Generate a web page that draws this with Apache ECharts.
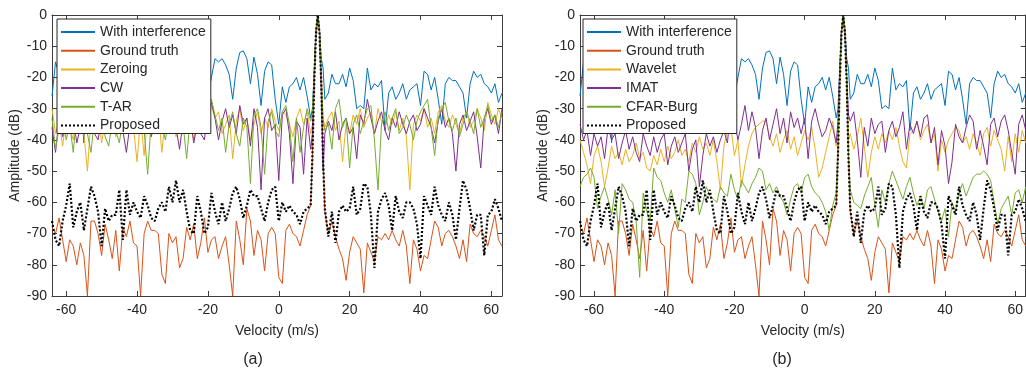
<!DOCTYPE html>
<html>
<head>
<meta charset="utf-8">
<script src="https://cdn.jsdelivr.net/npm/echarts@6/dist/echarts.min.js"></script>
<style>
html,body{margin:0;padding:0;background:#fff;}
#chart{width:1026px;height:370px;}
</style>
</head>
<body>
<div id="chart"></div>
<script>
// Velocity samples (m/s)
var velocity = [
-64,-63,-62,-61,-60,-59,-58,-57,-56,-55,
-54,-53,-52,-51,-50,-49,-48,-47,-46,-45,
-44,-43,-42,-41,-40,-39,-38,-37,-36,-35,
-34,-33,-32,-31,-30,-29,-28,-27,-26,-25,
-24,-23,-22,-21,-20,-19,-18,-17,-16,-15,
-14,-13,-12,-11,-10,-9,-8,-7,-6,-5,
-4,-3,-2,-1,0,1,2,3,4,5,
6,7,8,9,
9.5,10,10.5,11,11.5,12,12.5,
13,14,15,16,17,18,19,20,21,22,
23,24,25,26,27,28,29,30,31,32,
33,34,35,36,37,38,39,40,41,42,
43,44,45,46,47,48,49,50,51,52,
53,54,55,56,57,58,59,60,61,62,63];

var xTicks = [-60,-40,-20,0,20,40,60];

var withInterference = [
-26,-15,-19,-24,-17,-21,-27,-18,-23,-41,
-22,-16,-20,-25,-18,-14,-21,-28,-19,-17,
-23,-30,-20,-16,-22,-26,-18,-21,-33,-20,
-15,-19,-24,-17,-22,-28,-19,-23,-16,-20,
-27,-22,-27,-24,-26,-20,-14,-15,-14,-16,
-19,-27,-17,-12,-11.5,-14,-22,-13.5,-19,-29,
-18,-15,-16,-27,-35,-23,-28,-23,-22,-20,
-24,-20,-26,-33,
-30,-18,-5,0,-5,-14,-17,
-27,-25,-19,-22,-22,-19,-23,-17,-21,-30,
-29,-30,-17,-24,-22,-23,-21,-37,-25,-23,
-27,-25,-22,-27,-24,-23,-22,-29,-18,-19,
-24,-20,-27,-35,-22,-20,-21,-21,-23,-25,
-33,-22,-18,-20,-19,-22,-23,-25,-22,-28,-25];

var groundTruth = [
-68,-70,-65,-72,-79,-72,-74,-80,-73,-77,
-90,-66,-66,-70,-77,-67,-72,-78,-69,-82,
-68,-71,-66,-73,-74,-90,-70,-66,-69,-69,
-70,-83,-86,-70,-73,-71,-81,-78,-68,-72,
-67,-78,-73,-65,-76,-72,-71,-78,-74,-71,
-80,-90,-66,-72,-80,-62,-66,-77,-69,-72,
-82,-70,-68,-70,-84,-86,-69,-67,-70,-71,
-74,-69,-64,-61,
-45,-22,-6,0,-6,-22,-45,
-63,-70,-66,-71,-75,-78,-85,-76,-71,-73,
-75,-89,-73,-76,-79,-71,-72,-70,-72,-69,
-72,-74,-69,-74,-86,-72,-75,-82,-77,-78,
-72,-66,-68,-74,-70,-69,-71,-74,-78,-72,
-79,-67,-70,-71,-69,-71,-74,-69,-64,-72,-74];

var proposed = [
-66,-72,-74,-66,-61,-54,-68,-63,-60,-69,
-62,-55,-58,-63,-74,-62,-66,-64,-64,-56,
-72,-56,-64,-60,-63,-65,-58,-61,-65,-66,
-62,-60,-63,-55,-60,-53,-60,-56,-63,-69,
-70,-58,-63,-70,-68,-57,-63,-67,-60,-66,
-62,-57,-55,-59,-65,-61,-56,-58,-58,-62,
-66,-60,-56,-55,-66,-60,-63,-61,-63,-64,
-67,-63,-62,-61,
-45,-22,-6,0,-6,-22,-46,
-62,-71,-63,-73,-63,-61,-63,-62,-55,-64,
-62,-54,-55,-64,-81,-63,-59,-57,-61,-69,
-58,-63,-65,-60,-60,-62,-67,-78,-58,-61,
-64,-55,-61,-64,-66,-60,-64,-72,-62,-53,
-56,-62,-69,-64,-64,-77,-64,-63,-59,-62,-66];

var zeroing = [
-30,-38,-34,-42,-33,-36,-40,-31,-35,-38,
-50,-33,-37,-30,-41,-34,-36,-32,-39,-35,
-31,-38,-34,-36,-47,-33,-45,-32,-37,-34,
-30,-44,-33,-36,-32,-39,-34,-37,-31,-35,
-40,-33,-36,-30,-34,-29,-33,-31,-38,-35,
-32,-46,-34,-30,-37,-33,-40,-35,-31,-38,
-33,-36,-30,-34,-37,-31,-32,-35,-39,-33,
-30,-35,-31,-38,
-35,-18,-5,0,-5,-18,-33,
-36,-33,-31,-37,-34,-47,-35,-38,-32,-35,
-30,-36,-33,-31,-38,-30,-34,-36,-32,-35,
-31,-37,-33,-39,-56,-35,-32,-34,-30,-36,
-33,-38,-31,-29,-34,-36,-32,-35,-38,-33,
-31,-36,-34,-30,-33,-37,-28,-32,-35,-30,-33];

var cw = [
-36,-44,-33,-39,-35,-38,-33,-41,-36,-32,
-37,-34,-38,-40,-33,-36,-32,-38,-35,-33,
-37,-44,-35,-32,-38,-34,-36,-33,-39,-35,
-32,-37,-34,-38,-33,-36,-43,-34,-37,-32,
-41,-35,-38,-40,-31,-28,-33,-40,-34,-30,
-36,-32,-38,-29,-35,-33,-42,-30,-36,-56,
-33,-30,-37,-35,-53,-32,-30,-38,-54,-34,
-36,-51,-33,-43,
-38,-20,-5,0,-5,-25,-50,
-38,-34,-37,-31,-40,-35,-33,-38,-36,-46,
-32,-35,-27,-33,-38,-34,-31,-37,-40,-33,
-36,-31,-35,-38,-34,-32,-37,-35,-30,-33,
-36,-41,-34,-30,-36,-33,-38,-50,-35,-32,
-37,-34,-31,-39,-49,-33,-30,-35,-32,-38,-30];

var tar = [
-33,-43,-36,-31,-40,-35,-44,-32,-37,-34,
-38,-44,-33,-36,-31,-39,-42,-34,-37,-41,
-33,-36,-32,-38,-35,-33,-37,-51,-34,-31,
-37,-35,-40,-33,-36,-32,-38,-35,-46,-33,
-36,-31,-38,-34,-29,-27,-32,-37,-33,-44,
-35,-31,-38,-42,-33,-36,-54,-32,-30,-36,
-51,-34,-31,-37,-39,-31,-29,-35,-47,-33,
-44,-36,-30,-34,
-32,-18,-5,0,-5,-20,-34,
-37,-35,-43,-30,-27,-36,-33,-49,-35,-32,
-38,-34,-30,-29,-40,-56,-35,-31,-37,-33,
-30,-38,-36,-32,-35,-40,-34,-31,-29,-27,
-36,-45,-33,-30,-28,-34,-37,-33,-39,-35,
-31,-34,-38,-30,-36,-33,-29,-34,-32,-36,-31];

var wavelet = [
-40,-44,-48,-54,-45,-42,-47,-55,-49,-42,
-46,-44,-48,-43,-47,-45,-41,-46,-44,-49,
-50,-45,-48,-43,-47,-42,-46,-44,-40,-45,
-43,-47,-41,-44,-39,-43,-41,-45,-40,-47,
-56,-42,-37,-36,-45,-40,-55,-48,-42,-38,
-36,-35,-34,-34,-39,-42,-38,-44,-40,-37,
-43,-39,-45,-41,-37,-40,-36,-43,-52,-49,
-44,-39,-34,-42,
-38,-20,-5,0,-5,-22,-40,
-38,-43,-39,-33,-42,-52,-44,-39,-43,-38,
-41,-37,-40,-36,-42,-47,-49,-38,-37,-34,
-40,-37,-35,-41,-38,-50,-40,-44,-40,-38,
-36,-37,-41,-39,-43,-38,-41,-45,-38,-36,
-42,-37,-40,-43,-50,-39,-47,-38,-44,-37,-41];

var imat = [
-35,-40,-37,-45,-38,-42,-39,-46,-36,-40,
-38,-46,-41,-37,-43,-39,-44,-47,-38,-42,
-45,-39,-44,-40,-38,-48,-42,-39,-44,-41,
-38,-50,-43,-40,-55,-45,-38,-42,-39,-44,
-40,-37,-41,-29,-34,-40,-35,-29,-37,-31,
-36,-46,-37,-33,-40,-35,-30,-38,-33,-41,
-31,-36,-33,-38,-33,-46,-34,-30,-35,-39,
-37,-33,-36,-41,
-34,-18,-5,0,-5,-20,-32,
-34,-31,-40,-52,-36,-42,-33,-38,-35,-34,
-44,-37,-34,-39,-36,-31,-43,-35,-38,-34,
-39,-33,-32,-41,-36,-48,-37,-42,-54,-47,
-35,-39,-41,-36,-32,-34,-43,-37,-42,-48,
-35,-33,-39,-34,-32,-37,-44,-51,-35,-32,-37];

var cfarBurg = [
-55,-52,-51,-49,-52,-62,-58,-55,-59,-64,
-56,-70,-54,-56,-59,-60,-66,-84,-57,-63,
-66,-49,-52,-53,-57,-60,-56,-62,-68,-59,
-60,-50,-51,-54,-64,-60,-55,-58,-59,-60,
-55,-57,-58,-51,-56,-59,-53,-55,-57,-54,
-52,-49,-50,-56,-54,-57,-55,-58,-60,-64,
-59,-55,-54,-57,-52,-51,-55,-57,-58,-60,
-63,-69,-61,-57,
-42,-20,-5,0,-5,-22,-45,
-56,-60,-61,-62,-58,-55,-52,-61,-68,-56,
-60,-54,-50,-53,-56,-59,-55,-52,-57,-61,
-58,-62,-56,-55,-59,-63,-66,-62,-71,-60,
-63,-57,-54,-58,-55,-52,-51,-51,-50,-51,
-53,-60,-67,-62,-60,-58,-64,-57,-56,-60,-55];

var C = {blue:'#0072BD', orange:'#D95319', yellow:'#EDB120', purple:'#7E2F8E', green:'#77AC30', black:'#000000'};
var FONT = 'Liberation Sans, Arial, Helvetica, sans-serif';
var TXT = '#262626';
var AX = '#3c3c3c';

function pairs(arr){ return velocity.map(function(v,i){ return [v, arr[i]]; }); }

function lineSeries(name, arr, color, gi, dotted){
  return {
    name: name, type: 'line', xAxisIndex: gi*2, yAxisIndex: gi*2,
    data: pairs(arr), symbol: 'none', showSymbol: false, smooth: false,
    lineStyle: dotted ? {color: color, width: 2.2, type: [2, 2]} : {color: color, width: 1},
    itemStyle: {color: color},
    emphasis: {disabled: true}, z: dotted ? 5 : 2
  };
}

var GRID_TOP = 15, GRID_H = 281, GRID_W = 450;
var grids = [
  {left: 52, top: GRID_TOP, width: GRID_W, height: GRID_H},
  {left: 580, top: GRID_TOP, width: GRID_W, height: GRID_H}
];

var xAxes = [], yAxes = [];
[0,1].forEach(function(g){
  xAxes.push({
    type: 'value', gridIndex: g, min: -64, max: 63, position: 'bottom',
    name: 'Velocity (m/s)', nameLocation: 'middle', nameGap: 28,
    nameTextStyle: {color: TXT, fontSize: 14, fontFamily: FONT},
    axisLine: {show: true, onZero: false, lineStyle: {color: AX, width: 1}},
    axisTick: {show: true, inside: true, length: 5, customValues: xTicks, lineStyle: {color: AX}},
    axisLabel: {show: true, customValues: xTicks, color: TXT, fontSize: 14, fontFamily: FONT, margin: 7},
    splitLine: {show: false}
  });
  xAxes.push({
    type: 'value', gridIndex: g, min: -64, max: 63, position: 'top',
    axisLine: {show: true, onZero: false, lineStyle: {color: AX, width: 1}},
    axisTick: {show: true, inside: true, length: 5, customValues: xTicks, lineStyle: {color: AX}},
    axisLabel: {show: false},
    splitLine: {show: false}
  });
  yAxes.push({
    type: 'value', gridIndex: g, min: -90, max: 0, interval: 10, position: 'left',
    name: 'Amplitude (dB)', nameLocation: 'middle', nameGap: 30,
    nameTextStyle: {color: TXT, fontSize: 14, fontFamily: FONT},
    axisLine: {show: true, onZero: false, lineStyle: {color: AX, width: 1}},
    axisTick: {show: true, inside: true, length: 5, lineStyle: {color: AX}},
    axisLabel: {show: true, color: TXT, fontSize: 14, fontFamily: FONT, margin: 5},
    splitLine: {show: false}
  });
  yAxes.push({
    type: 'value', gridIndex: g, min: -90, max: 0, interval: 10, position: 'right',
    axisLine: {show: true, onZero: false, lineStyle: {color: AX, width: 1}},
    axisTick: {show: true, inside: true, length: 5, lineStyle: {color: AX}},
    axisLabel: {show: false},
    splitLine: {show: false}
  });
});

var series = [
  lineSeries('With interference', withInterference, C.blue, 0),
  lineSeries('Ground truth', groundTruth, C.orange, 0),
  lineSeries('Zeroing', zeroing, C.yellow, 0),
  lineSeries('CW', cw, C.purple, 0),
  lineSeries('T-AR', tar, C.green, 0),
  lineSeries('Proposed', proposed, C.black, 0, true),
  lineSeries('With interference', withInterference, C.blue, 1),
  lineSeries('Ground truth', groundTruth, C.orange, 1),
  lineSeries('Wavelet', wavelet, C.yellow, 1),
  lineSeries('IMAT', imat, C.purple, 1),
  lineSeries('CFAR-Burg', cfarBurg, C.green, 1),
  lineSeries('Proposed', proposed, C.black, 1, true)
];

function legend(left, names){
  return {
    orient: 'vertical', left: left, top: 19,
    data: names, itemWidth: 34, itemHeight: 14, itemGap: 4.7,
    padding: [6, 5, 1, 3],
    itemStyle: {color: 'rgba(0,0,0,0)', borderColor: 'rgba(0,0,0,0)', borderWidth: 0},
    backgroundColor: '#ffffff', borderColor: '#262626', borderWidth: 1, borderRadius: 0,
    textStyle: {color: TXT, fontSize: 14, fontFamily: FONT},
    selectedMode: false, z: 10
  };
}

var option = {
  animation: false,
  backgroundColor: '#ffffff',
  grid: grids,
  xAxis: xAxes,
  yAxis: yAxes,
  legend: [
    legend(57, ['With interference','Ground truth','Zeroing','CW','T-AR','Proposed']),
    legend(583, ['With interference','Ground truth','Wavelet','IMAT','CFAR-Burg','Proposed'])
  ],
  graphic: [
    {type: 'text', x: 253, y: 360, style: {text: '(a)', fill: TXT, font: '16px ' + FONT, textAlign: 'center', textVerticalAlign: 'middle'}},
    {type: 'text', x: 782, y: 360, style: {text: '(b)', fill: TXT, font: '16px ' + FONT, textAlign: 'center', textVerticalAlign: 'middle'}}
  ],
  series: series
};

var chart = echarts.init(document.getElementById('chart'), null, {renderer: 'canvas'});
chart.setOption(option);
</script>
</body>
</html>
